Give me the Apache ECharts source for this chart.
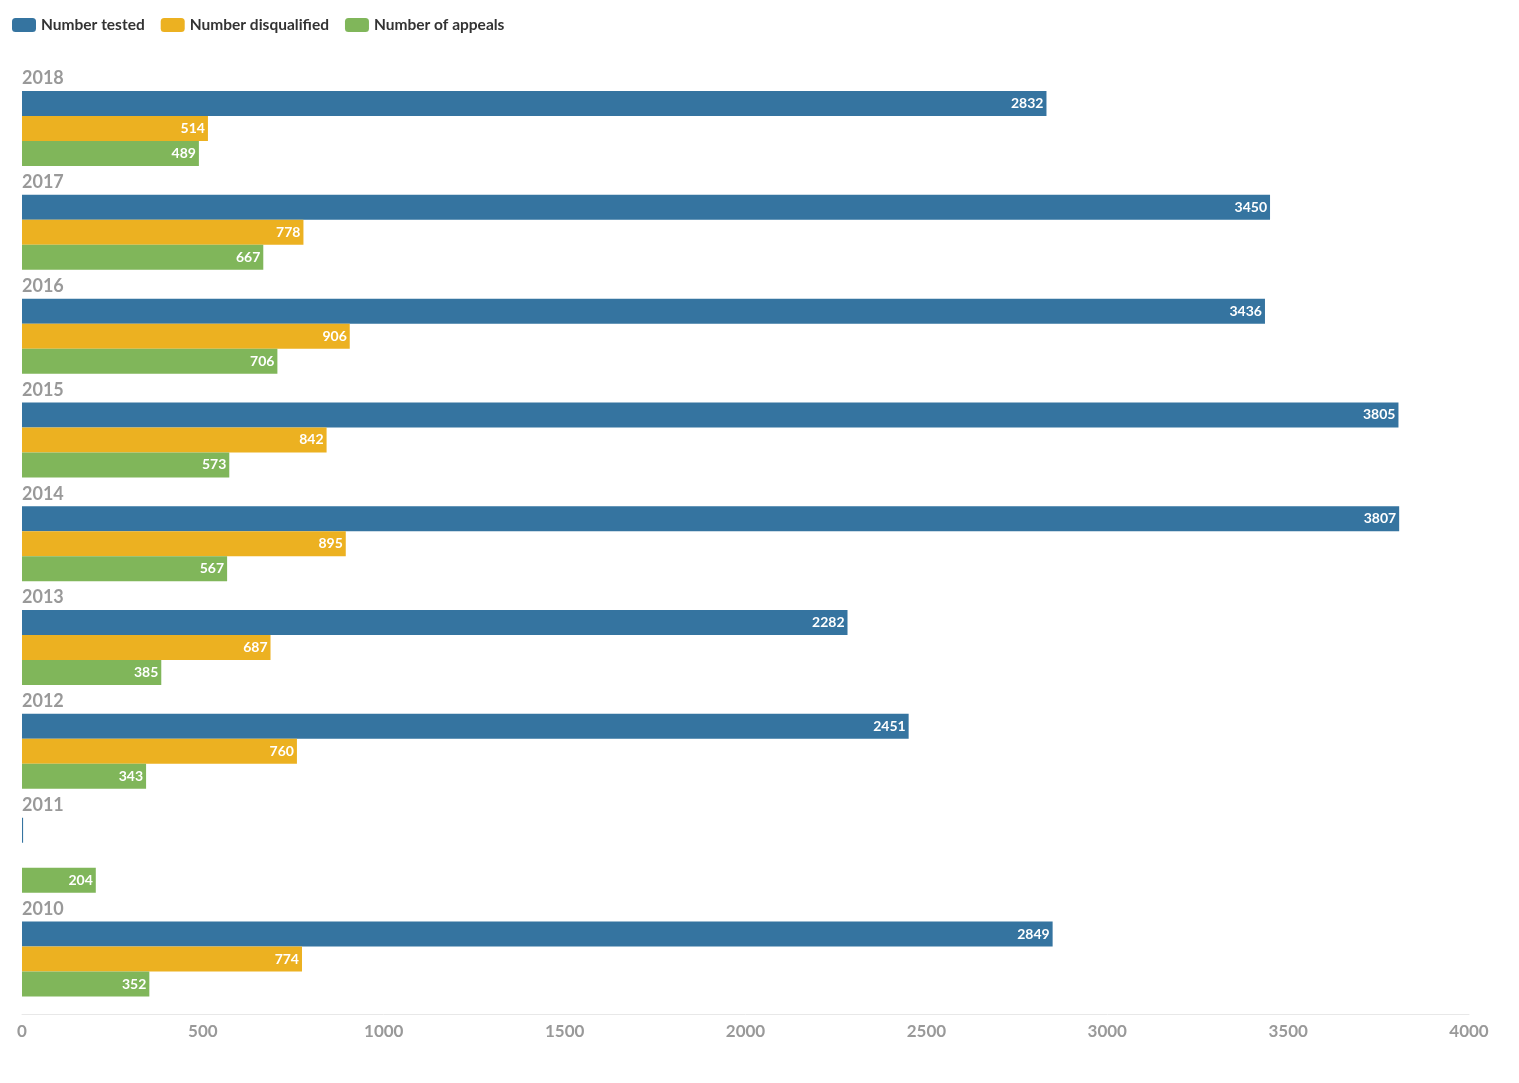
<!DOCTYPE html>
<html>
<head>
<meta charset="utf-8">
<script src="https://cdn.jsdelivr.net/npm/echarts@6/dist/echarts.min.js"></script>
<style>
html,body{margin:0;padding:0;background:#fff;}
#chart{width:1519px;height:1083px;}
</style>
</head>
<body>
<div id="chart"></div>
<script>
const years = ['2018','2017','2016','2015','2014','2013','2012','2011','2010'];
const numberTested = [2832, 3450, 3436, 3805, 3807, 2282, 2451, 3, 2849];
const numberDisqualified = [514, 778, 906, 842, 895, 687, 760, null, 774];
const numberOfAppeals = [489, 667, 706, 573, 567, 385, 343, 204, 352];
const seriesNames = ['Number tested', 'Number disqualified', 'Number of appeals'];
const xTicks = {min: 0, max: 4000, interval: 500};

const FONT = 'Lato, "Open Sans", sans-serif';
const colors = ['#3574a0', '#ecb121', '#80b65a'];

const chart = echarts.init(document.getElementById('chart'));
function mk(name, data, color) {
  return {
    name: name,
    type: 'bar',
    data: data,
    barWidth: 25,
    barGap: '0%',
    itemStyle: {color: color},
    label: {
      show: true,
      position: 'insideRight',
      distance: 3,
      color: '#fff',
      fontFamily: FONT,
      fontWeight: 'bold',
      fontSize: 14,
      formatter: p => (p.value >= 50 ? String(p.value) : '')
    }
  };
}
chart.setOption({
  animation: false,
  legend: {
    left: 12,
    top: 17,
    padding: 0,
    itemWidth: 24,
    itemHeight: 14,
    itemGap: 16,
    icon: 'roundRect',
    textStyle: {fontFamily: FONT, fontWeight: 'bold', fontSize: 15.5, color: '#333'},
    data: seriesNames
  },
  grid: {left: 22, right: 50, top: 76.6, bottom: 72.1, containLabel: false},
  xAxis: {
    type: 'value',
    min: xTicks.min, max: xTicks.max, interval: xTicks.interval,
    offset: 3,
    axisLine: {show: true, lineStyle: {color: '#e8e8e8', width: 1}},
    axisTick: {show: false},
    splitLine: {show: false},
    axisLabel: {color: '#999', fontFamily: FONT, fontWeight: 'bold', fontSize: 17, margin: 9,
      formatter: v => String(v)}
  },
  yAxis: {
    type: 'category',
    data: years,
    inverse: true,
    axisLine: {show: false},
    axisTick: {show: false},
    splitLine: {show: false},
    axisLabel: {
      inside: true,
      margin: 0,
      align: 'left',
      verticalAlign: 'bottom',
      lineHeight: 20,
      padding: [0, 0, 40, 0],
      color: '#999',
      fontFamily: FONT,
      fontWeight: 'bold',
      fontSize: 18
    },
    z: 10
  },
  series: [
    mk(seriesNames[0], numberTested, colors[0]),
    mk(seriesNames[1], numberDisqualified, colors[1]),
    mk(seriesNames[2], numberOfAppeals, colors[2])
  ]
});
</script>
</body>
</html>
